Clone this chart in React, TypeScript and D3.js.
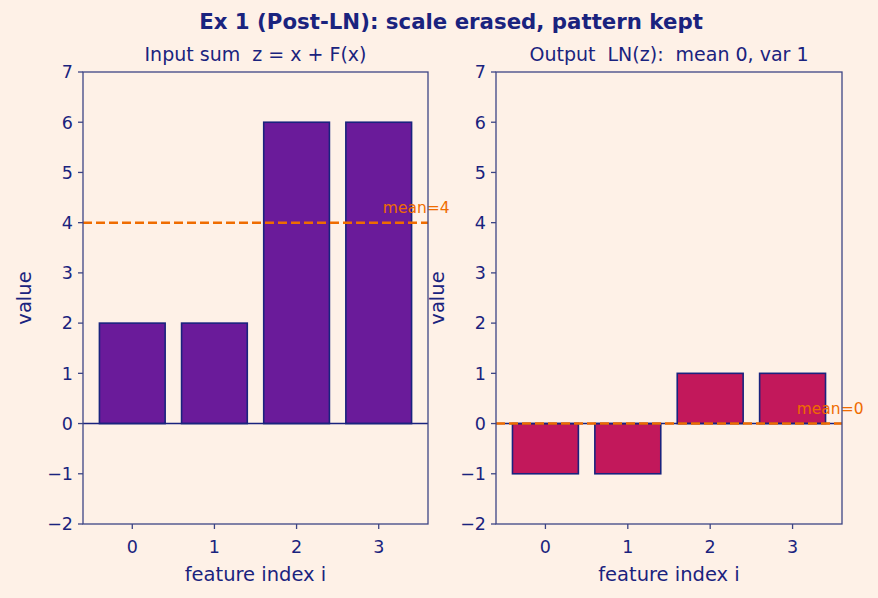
import * as d3 from "d3";

const features = [0, 1, 2, 3];
const inputValues = [2, 2, 6, 6];
const outputValues = [-1, -1, 1, 1];
const yTicks = [-2, -1, 0, 1, 2, 3, 4, 5, 6, 7];
const panelTitles = ["Input sum  z = x + F(x)", "Output  LN(z):  mean 0, var 1"];
const meanLabels = ["mean=4", "mean=0"];
const meanValues = [4, 0];

const W = 878;
const H = 598;
const ink = "#1a237e";
const spine = "#3d4585";
const bg = "#fef1e7";
const orange = "#ef6c00";
const font = "DejaVu Sans, sans-serif";

type PanelProps = {
  left: number;
  right: number;
  values: number[];
  fill: string;
  title: string;
  mean: number;
  meanLabel: string;
};

function Panel({ left, right, values, fill, title, mean, meanLabel }: PanelProps) {
  const top = 72;
  const bottom = 524;
  const x = d3.scaleLinear().domain([-0.6, 3.6]).range([left, right]);
  const y = d3.scaleLinear().domain([-2, 7]).range([bottom, top]);
  const bw = x(0.8) - x(0);

  return (
    <g>
      <text
        x={(left + right) / 2}
        y={61}
        textAnchor="middle"
        fontSize={19}
        fill={ink}
        fontFamily={font}
        style={{ whiteSpace: "pre" }}
      >
        {title}
      </text>
      {values.map((v, i) => (
        <rect
          key={i}
          x={x(features[i]) - bw / 2}
          y={y(Math.max(v, 0))}
          width={bw}
          height={Math.abs(y(v) - y(0))}
          fill={fill}
          stroke={ink}
          strokeWidth={1.6}
        />
      ))}
      <line x1={left} x2={right} y1={y(0)} y2={y(0)} stroke={ink} strokeWidth={1.5} />
      <line
        x1={left}
        x2={right}
        y1={y(mean)}
        y2={y(mean)}
        stroke={orange}
        strokeWidth={2.5}
        strokeDasharray="9,4"
      />
      <text x={x(3.05)} y={y(mean + 0.19)} fontSize={15.5} fill={orange} fontFamily={font}>
        {meanLabel}
      </text>
      <rect x={left} y={top} width={right - left} height={bottom - top} fill="none" stroke={spine} strokeWidth={1.3} />
      {yTicks.map((t) => (
        <g key={t}>
          <line x1={left - 5} x2={left} y1={y(t)} y2={y(t)} stroke={spine} strokeWidth={1.3} />
          <text x={left - 10} y={y(t)} dy="0.36em" textAnchor="end" fontSize={17.5} fill={ink} fontFamily={font}>
            {t < 0 ? "\u2212" + Math.abs(t) : t}
          </text>
        </g>
      ))}
      {features.map((f) => (
        <g key={f}>
          <line x1={x(f)} x2={x(f)} y1={bottom} y2={bottom + 5} stroke={spine} strokeWidth={1.3} />
          <text x={x(f)} y={bottom + 29} textAnchor="middle" fontSize={17.5} fill={ink} fontFamily={font}>
            {f}
          </text>
        </g>
      ))}
      <text x={(left + right) / 2} y={581} textAnchor="middle" fontSize={19.5} fill={ink} fontFamily={font}>
        feature index i
      </text>
      <text
        transform={`translate(${left - 52},${(top + bottom) / 2}) rotate(-90)`}
        textAnchor="middle"
        fontSize={19.5}
        fill={ink}
        fontFamily={font}
      >
        value
      </text>
    </g>
  );
}

export default function App() {
  return (
    <svg width={W} height={H} style={{ position: "absolute", left: 0, top: 0, background: bg }}>
      <rect width={W} height={H} fill={bg} />
      <text x={451} y={29} textAnchor="middle" fontSize={21.3} fontWeight="bold" fill={ink} fontFamily={font}>
        Ex 1 (Post-LN): scale erased, pattern kept
      </text>
      <Panel
        left={83}
        right={428}
        values={inputValues}
        fill="#6a1b9a"
        title={panelTitles[0]}
        mean={meanValues[0]}
        meanLabel={meanLabels[0]}
      />
      <Panel
        left={496}
        right={842}
        values={outputValues}
        fill="#c2185b"
        title={panelTitles[1]}
        mean={meanValues[1]}
        meanLabel={meanLabels[1]}
      />
    </svg>
  );
}
